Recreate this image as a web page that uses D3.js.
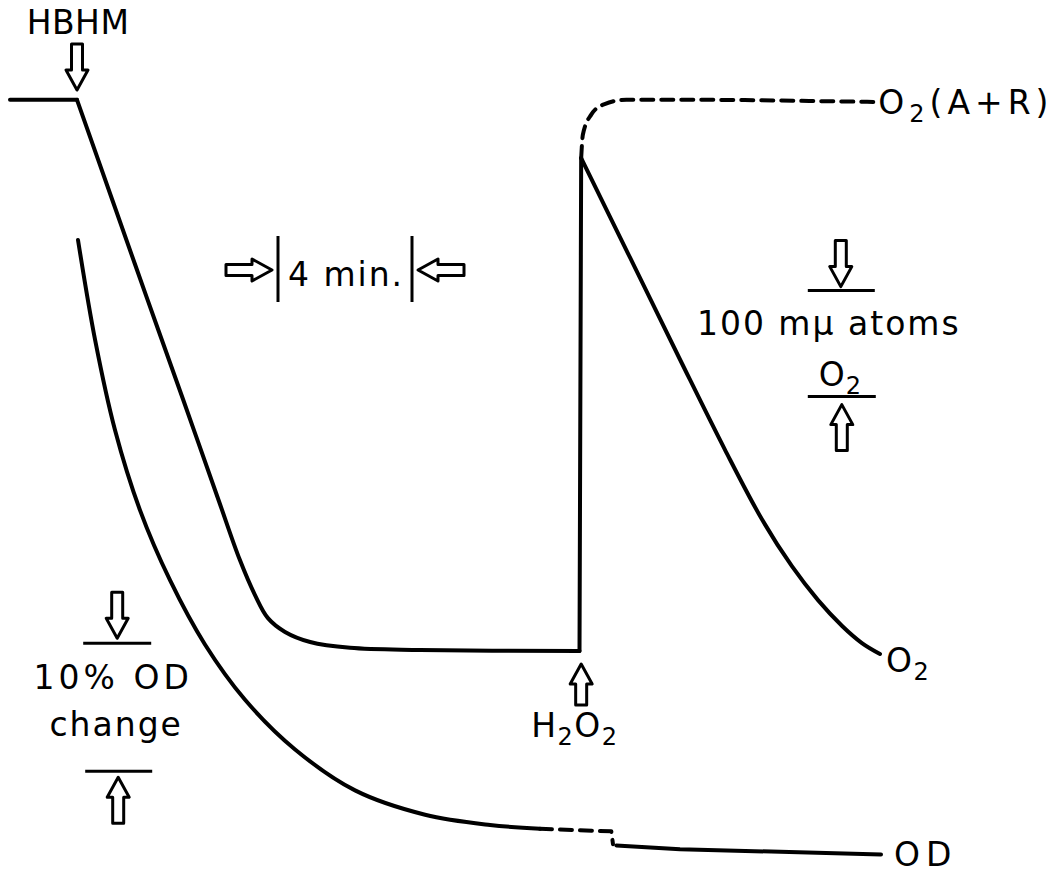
<!DOCTYPE html>
<html>
<head>
<meta charset="utf-8">
<script src="https://cdn.jsdelivr.net/npm/d3@7"></script>
<style>
  body { margin: 0; background: #fff; }
  svg { display: block; background: #fff; }
  .trace { fill: none; stroke: #000; stroke-width: 4; stroke-linecap: round; stroke-linejoin: round; }
  .dashed { stroke-dasharray: 12 8; }
  .arrow { fill: #fff; stroke: #000; stroke-width: 3; stroke-linejoin: round; }
  .rule { stroke: #000; stroke-width: 3; }
  text { font-family: "DejaVu Sans", sans-serif; font-size: 33px; fill: #000; }
</style>
</head>
<body>
<svg id="chart" width="1054" height="874"></svg>
<script>
// time in minutes, O2 in m\u03bc atoms above the anaerobic level, OD as % change
const o2Baseline = [[0, 520], [2, 520]];
const o2Uptake = [[2, 520], [3.06, 425], [4.11, 331], [5.17, 237], [6.23, 142], [6.86, 86],
  [7.31, 53], [7.7, 31], [8.21, 18], [8.96, 8.5], [10.15, 3], [12.24, 1], [17, 0]];
const o2Jump = [[17, 0], [17.05, 465]];
const o2Recovery = [[17.05, 465], [18.51, 371], [20, 275], [21.34, 190], [22.45, 124], [23.34, 80],
  [24.12, 48], [24.84, 23.6], [25.43, 7.5], [25.97, -2.8]];
const o2AR = [[17.05, 465], [17.1, 487], [17.35, 506], [17.75, 516], [18.4, 520], [20.6, 520],
  [23.6, 519], [25.8, 518]];

const odSolid = [[2.03, 0], [2.54, -7.8], [3.13, -14.8], [3.88, -21.1], [4.78, -26.6], [5.82, -31.6],
  [7.01, -35.9], [8.51, -39.8], [10.3, -43], [12.39, -44.9], [14.33, -45.7], [15.82, -46]];
const odGap = [[15.82, -46], [17.95, -46.2], [18.0, -47.2]];
const odEnd = [[18.1, -47.3], [20, -47.6], [26, -48]];

const hbhmTime = 2;
const h2o2Time = 17.05;
const timeBar = [8, 12];      // 4 min.
const o2Bar = [340, 240];     // 100 m\u03bc atoms O2
const odBar = [-31.5, -41.5]; // 10% OD change

const svg = d3.select('#chart');

const xScale = d3.scaleLinear().domain([0, 30]).range([10, 1015]);
const o2Scale = d3.scaleLinear().domain([0, 500]).range([651, 121]);
const odScale = d3.scaleLinear().domain([-50, 0]).range([880, 240]);

const smooth = d3.curveCatmullRom.alpha(0.5);

const o2Line = (curve) => d3.line()
  .x(d => xScale(d[0]))
  .y(d => o2Scale(d[1]))
  .curve(curve);
const odLine = (curve) => d3.line()
  .x(d => xScale(d[0]))
  .y(d => odScale(d[1]))
  .curve(curve);

svg.append('path').attr('class', 'trace').attr('d', o2Line(d3.curveLinear)(o2Baseline));
svg.append('path').attr('class', 'trace').attr('d', o2Line(smooth)(o2Uptake));
svg.append('path').attr('class', 'trace').attr('d', o2Line(d3.curveLinear)(o2Jump));
svg.append('path').attr('class', 'trace').attr('d', o2Line(smooth)(o2Recovery));
svg.append('path').attr('class', 'trace dashed').attr('d', o2Line(d3.curveMonotoneX)(o2AR));

svg.append('path').attr('class', 'trace').attr('d', odLine(smooth)(odSolid));
svg.append('path').attr('class', 'trace dashed').attr('d', odLine(d3.curveLinear)(odGap));
svg.append('path').attr('class', 'trace').attr('d', odLine(d3.curveLinear)(odEnd));

// hollow block arrow, tip at (x, y); angle 0 points down
const arrow = (x, y, angle, len = 46) => svg.append('path')
  .attr('class', 'arrow')
  .attr('d', `M0,0 L-11,-20 L-5.5,-20 L-5.5,-${len} L5.5,-${len} L5.5,-20 L11,-20 Z`)
  .attr('transform', `translate(${x},${y}) rotate(${angle})`);

// parts: plain strings, or {s: '2'} for a subscript
const label = (x, y, parts, anchor = 'start', spacing = 1) => {
  const t = svg.append('text')
    .attr('x', x)
    .attr('y', y)
    .attr('text-anchor', anchor)
    .style('letter-spacing', spacing + 'px');
  let lowered = false;
  parts.forEach(p => {
    if (typeof p === 'string') {
      t.append('tspan').attr('dy', lowered ? -8 : 0).text(p);
      lowered = false;
    } else {
      t.append('tspan').attr('dy', 8).style('font-size', '24px').text(p.s);
      lowered = true;
    }
  });
  return t;
};

// HBHM addition
label(xScale(hbhmTime) + 1, 34, ['HBHM'], 'middle', 0.5);
arrow(xScale(hbhmTime), 90, 0);

// 4 min. time bar
const x0 = xScale(timeBar[0]);
const x1 = xScale(timeBar[1]);
svg.append('line').attr('class', 'rule').attr('x1', x0).attr('x2', x0).attr('y1', 236).attr('y2', 302);
svg.append('line').attr('class', 'rule').attr('x1', x1).attr('x2', x1).attr('y1', 236).attr('y2', 302);
arrow(x0 - 6, 270, -90);
arrow(x1 + 6, 270, 90);
label((x0 + x1) / 2 + 1, 286, ['4 min.'], 'middle', 2);

// 100 m\u03bc atoms O2 bar
const ox = xScale(24.8);
svg.append('line').attr('class', 'rule')
  .attr('x1', ox - 33).attr('x2', ox + 34)
  .attr('y1', o2Scale(o2Bar[0])).attr('y2', o2Scale(o2Bar[0]));
svg.append('line').attr('class', 'rule')
  .attr('x1', ox - 33).attr('x2', ox + 35)
  .attr('y1', o2Scale(o2Bar[1])).attr('y2', o2Scale(o2Bar[1]));
arrow(ox, o2Scale(o2Bar[0]) - 4, 0);
arrow(ox + 1, o2Scale(o2Bar[1]) + 8, 180);
label(ox - 12, 335, ['100 m\u03bc atoms'], 'middle', 2);
label(ox - 22, 386, ['O', {s: '2'}], 'start', 1);

// 10% OD change bar
const dx = xScale(3.2);
svg.append('line').attr('class', 'rule')
  .attr('x1', dx - 34).attr('x2', dx + 34)
  .attr('y1', odScale(odBar[0])).attr('y2', odScale(odBar[0]));
svg.append('line').attr('class', 'rule')
  .attr('x1', dx - 32).attr('x2', dx + 35)
  .attr('y1', odScale(odBar[1])).attr('y2', odScale(odBar[1]));
arrow(dx, odScale(odBar[0]) - 5, 0);
arrow(dx + 1, odScale(odBar[1]) + 6, 180);
label(dx - 4, 689, ['10% OD'], 'middle', 4);
label(dx - 1, 736, ['change'], 'middle', 2);

// H2O2 addition
arrow(xScale(h2o2Time), 664, 180, 41);
label(xScale(h2o2Time) - 50, 737, ['H', {s: '2'}, 'O', {s: '2'}], 'start', 1.5);

// trace labels
label(xScale(o2AR[o2AR.length - 1][0]) + 4, 114, ['O', {s: '2'}, '(A+R)'], 'start', 5);
label(xScale(o2Recovery[o2Recovery.length - 1][0]) + 6, 672, ['O', {s: '2'}], 'start', 1.5);
label(xScale(odEnd[odEnd.length - 1][0]) + 13, 866, ['OD'], 'start', 6);
</script>
</body>
</html>
